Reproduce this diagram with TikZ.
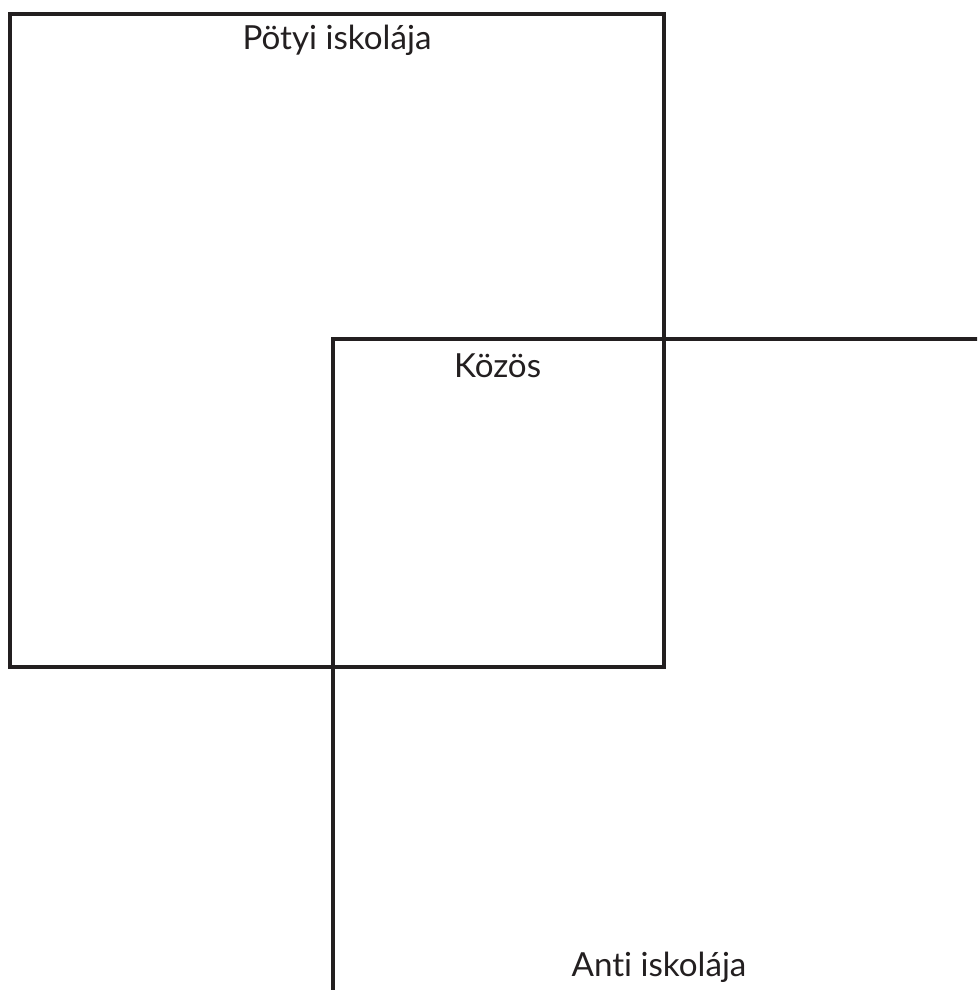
\documentclass[tikz,border=0pt]{standalone}
\usepackage{fontspec}
\setmainfont[Ligatures={NoCommon}]{Lato}
\usepackage{tikz}
\usetikzlibrary{positioning}
\definecolor{ink}{HTML}{231F20}

\begin{document}
\begin{tikzpicture}[
    box/.style={draw=ink, line width=2.85pt},
    lbl/.style={font=\fontsize{23.6}{28}\selectfont, text=ink, anchor=base, inner sep=0pt}
]
    \useasboundingbox (0,0) rectangle (24.425,24.75);
    \clip (0,0) rectangle (24.425,24.75);

    % Pötyi iskolája
    \draw[box] (0.25,8.075) rectangle (16.6,24.4);
    \node[lbl] (poty) at (8.425,23.52) {Pötyi iskolája};

    % Anti iskolája
    \draw[box] (8.325,-0.1) rectangle (24.7,16.28);
    \node[lbl] (anti) at (16.475,0.33) {Anti iskolája};

    % közös rész
    \node[lbl] (kozos) at (12.44,15.31) {Közös};
\end{tikzpicture}
\end{document}
